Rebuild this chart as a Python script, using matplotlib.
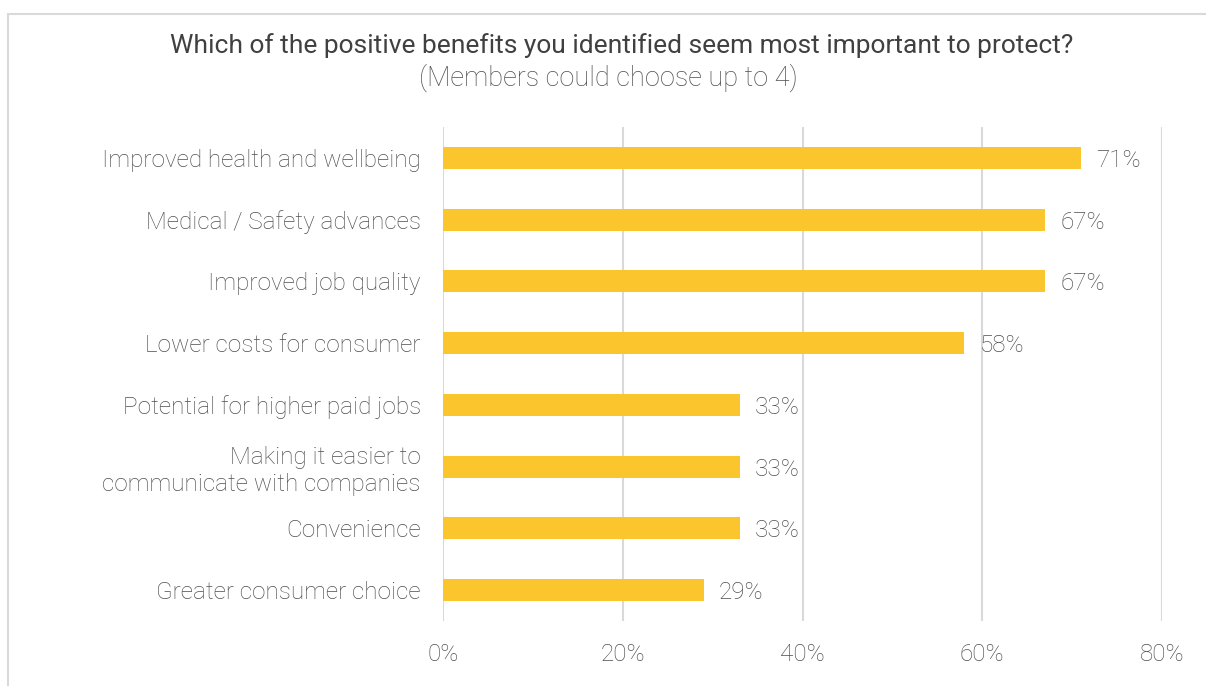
import matplotlib
matplotlib.use("Agg")
import matplotlib.pyplot as plt
from matplotlib.patches import Rectangle

categories = [
    "Improved health and wellbeing",
    "Medical / Safety advances",
    "Improved job quality",
    "Lower costs for consumer",
    "Potential for higher paid jobs",
    "Making it easier to\ncommunicate with companies",
    "Convenience",
    "Greater consumer choice",
]
values = [71, 67, 67, 58, 33, 33, 33, 29]
xticks = [0, 20, 40, 60, 80]
xtick_labels = ["0%", "20%", "40%", "60%", "80%"]

title = "Which of the positive benefits you identified seem most important to protect?"
subtitle = "(Members could choose up to 4)"

bar_color = "#FBC52D"
text_color = "#4F4F4F"
grid_color = "#D9D9D9"
fs = 17.5

fig = plt.figure(figsize=(12.06, 6.86), dpi=100)
fig.patch.set_facecolor("white")

# light frame around the chart area
fig.add_artist(Rectangle((8 / 1206, -0.01), 1.1, 1 - 14 / 686 + 0.01,
                         transform=fig.transFigure, fill=False,
                         edgecolor=grid_color, linewidth=1.5))

ax = fig.add_axes([443 / 1206, 1 - 621 / 686, (1162 - 443) / 1206, (621 - 127) / 686])

ypos = list(range(len(categories)))
ax.barh(ypos, values, height=0.36, color=bar_color, zorder=3)
ax.set_ylim(len(categories) - 0.5, -0.5)
ax.set_xlim(0, 80)

ax.set_yticks(ypos)
ax.set_yticklabels(categories, fontsize=fs, color=text_color,
                   family="Roboto", fontweight="light", linespacing=1.2)
ax.set_xticks(xticks)
ax.set_xticklabels(xtick_labels, fontsize=fs, color=text_color,
                   family="Roboto", fontweight="light")
ax.tick_params(axis="both", length=0)
ax.tick_params(axis="y", pad=16)
ax.tick_params(axis="x", pad=16)

ax.grid(axis="x", color=grid_color, linewidth=1.5, zorder=0)
ax.grid(axis="y", visible=False)
for s in ax.spines.values():
    s.set_visible(False)

for y, v in zip(ypos, values):
    ax.annotate(f"{v}%", xy=(v, y), xytext=(11, 0), textcoords="offset points",
                va="center_baseline", ha="left", fontsize=fs, color=text_color,
                family="Roboto", fontweight="light")

fig.text(621.5 / 1206, 1 - 43 / 686, title, ha="center", va="center_baseline",
         fontsize=19, color="#404040", family="Roboto")
fig.text(608.5 / 1206, 1 - 75 / 686, subtitle, ha="center", va="center_baseline",
         fontsize=19.5, color=text_color, family="Roboto", fontweight="light")

fig.savefig("out.png", dpi=100, facecolor="white")
